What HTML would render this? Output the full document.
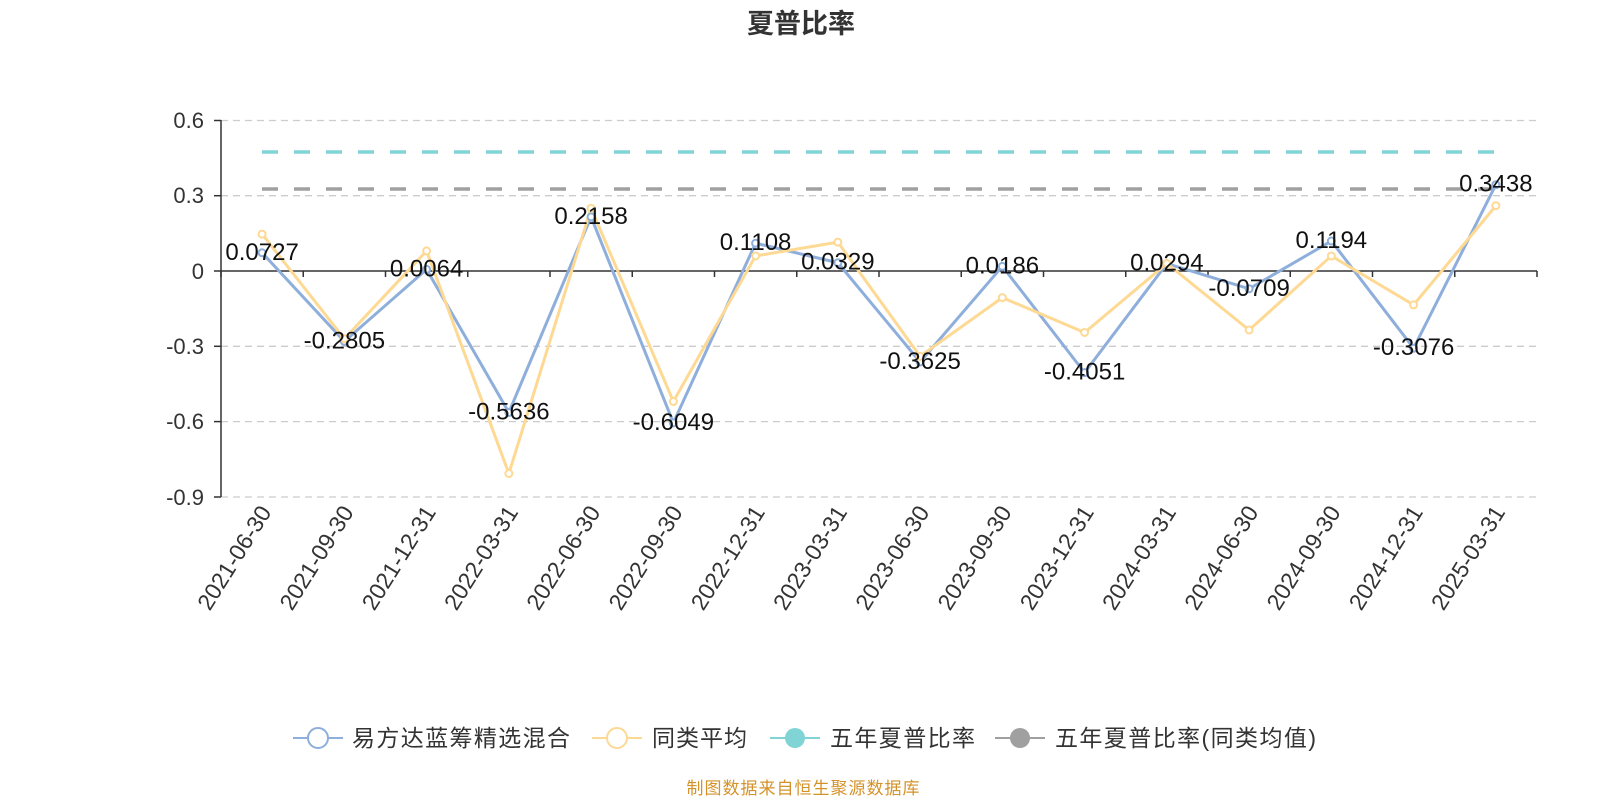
<!DOCTYPE html>
<html><head><meta charset="utf-8"><style>
body{margin:0;background:#fff;}
svg text{font-family:"Liberation Sans","Noto Sans CJK SC",sans-serif;}
</style></head><body>
<svg width="1600" height="800" xmlns="http://www.w3.org/2000/svg">
<text x="801" y="33" font-size="27" font-weight="bold" fill="#333" text-anchor="middle">夏普比率</text>
<g stroke="#ccc" stroke-dasharray="7,5" stroke-width="1.3">
<line x1="221" x2="1537" y1="120.5" y2="120.5"/>
<line x1="221" x2="1537" y1="195.7" y2="195.7"/>
<line x1="221" x2="1537" y1="346.3" y2="346.3"/>
<line x1="221" x2="1537" y1="421.6" y2="421.6"/>
<line x1="221" x2="1537" y1="497" y2="497"/>
</g>
<line x1="221" y1="120" x2="221" y2="497" stroke="#333" stroke-width="1.5"/>
<g stroke="#333" stroke-width="1.5">
<line x1="214" x2="221" y1="120.5" y2="120.5"/><line x1="214" x2="221" y1="195.7" y2="195.7"/>
<line x1="214" x2="221" y1="271" y2="271"/><line x1="214" x2="221" y1="346.3" y2="346.3"/>
<line x1="214" x2="221" y1="421.6" y2="421.6"/><line x1="214" x2="221" y1="497" y2="497"/>
<line x1="221" x2="1537" y1="271" y2="271"/>
</g>
<g font-size="22" fill="#333" text-anchor="end">
<text x="204" y="128">0.6</text><text x="204" y="203">0.3</text><text x="204" y="279">0</text>
<text x="204" y="354">-0.3</text><text x="204" y="429">-0.6</text><text x="204" y="505">-0.9</text>
</g>
<g id="xt" stroke="#333" stroke-width="1.5"></g>
<g id="xl" font-size="23" fill="#333" text-anchor="end"></g>
<line x1="262" x2="1496" y1="152" y2="152" stroke="#80d4d6" stroke-width="3.5" stroke-dasharray="16,16"/>
<line x1="262" x2="1496" y1="189" y2="189" stroke="#a0a0a0" stroke-width="3.5" stroke-dasharray="16,16"/>
<polyline id="pb" fill="none" stroke="#8eaedb" stroke-width="3"/>
<polyline id="py" fill="none" stroke="#fdd994" stroke-width="3"/>
<g id="my"></g>
<g id="lb" font-size="24" fill="#111" text-anchor="middle"></g>
<g font-size="23" fill="#333">
<line x1="293" x2="343" y1="738" y2="738" stroke="#8eaedb" stroke-width="2"/><circle cx="318" cy="738" r="10" fill="#fff" stroke="#8eaedb" stroke-width="2"/>
<text x="352" y="746" textLength="218">易方达蓝筹精选混合</text>
<line x1="592" x2="642" y1="738" y2="738" stroke="#fdd994" stroke-width="2"/><circle cx="617" cy="738" r="10" fill="#fff" stroke="#fdd994" stroke-width="2"/>
<text x="652" y="746" textLength="95">同类平均</text>
<line x1="770" x2="820" y1="738" y2="738" stroke="#80d4d6" stroke-width="2"/><circle cx="795" cy="738" r="10" fill="#80d4d6"/>
<text x="830" y="746" textLength="145">五年夏普比率</text>
<line x1="995" x2="1045" y1="738" y2="738" stroke="#a0a0a0" stroke-width="2"/><circle cx="1020" cy="738" r="10" fill="#a0a0a0"/>
<text x="1055" y="746" textLength="261">五年夏普比率(同类均值)</text>
</g>
<text x="803" y="794" font-size="17" fill="#d4932a" text-anchor="middle" textLength="233">制图数据来自恒生聚源数据库</text>
<script>
var ns="http://www.w3.org/2000/svg";
var dates=["2021-06-30","2021-09-30","2021-12-31","2022-03-31","2022-06-30","2022-09-30","2022-12-31","2023-03-31","2023-06-30","2023-09-30","2023-12-31","2024-03-31","2024-06-30","2024-09-30","2024-12-31","2025-03-31"];
var b=[0.0727,-0.2805,0.0064,-0.5636,0.2158,-0.6049,0.1108,0.0329,-0.3625,0.0186,-0.4051,0.0294,-0.0709,0.1194,-0.3076,0.3438];
var yv=[0.147,-0.27,0.08,-0.807,0.25,-0.52,0.06,0.115,-0.34,-0.106,-0.245,0.03,-0.235,0.06,-0.135,0.26];
function X(i){return 262.1+82.25*i;}function Y(v){return 271-v*251;}
function el(t,a,p){var e=document.createElementNS(ns,t);for(var k in a)e.setAttribute(k,a[k]);document.getElementById(p).appendChild(e);return e;}
for(var i=0;i<=16;i++){el("line",{x1:221+82.25*i,x2:221+82.25*i,y1:271,y2:277},"xt");}
var pb=[],py=[];
for(var i=0;i<16;i++){
 var x=X(i);pb.push(x+","+Y(b[i]));py.push(x+","+Y(yv[i]));
 el("circle",{cx:x,cy:Y(b[i]),r:3.5,fill:"#fff",stroke:"#8eaedb","stroke-width":2},"my");
 el("circle",{cx:x,cy:Y(yv[i]),r:3.5,fill:"#fff",stroke:"#fdd994","stroke-width":2},"my");
 var t=el("text",{x:x,y:Y(b[i])+7},"lb");t.textContent=b[i].toFixed(4);
 var l=el("text",{x:0,y:0,transform:"translate("+(x+10)+",512) rotate(-58)"},"xl");l.textContent=dates[i];
}
document.getElementById("pb").setAttribute("points",pb.join(" "));
document.getElementById("py").setAttribute("points",py.join(" "));
</script>
</svg>
</body></html>
